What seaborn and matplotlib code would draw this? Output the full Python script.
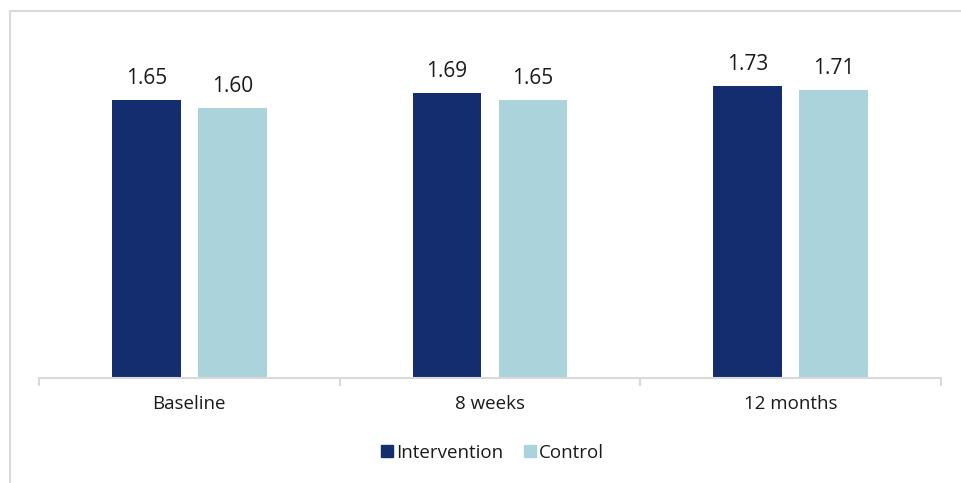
import matplotlib
matplotlib.use("Agg")
import matplotlib.pyplot as plt
from matplotlib.lines import Line2D
from matplotlib.ticker import FixedLocator
import seaborn as sns
import pandas as pd

# Mean scores by time point and study arm
timepoints = ["Baseline", "8 weeks", "12 months"]
intervention = [1.65, 1.69, 1.73]
control = [1.60, 1.65, 1.71]
groups = ["Intervention", "Control"]

df = pd.DataFrame({
    "time": timepoints * 2,
    "group": [groups[0]] * 3 + [groups[1]] * 3,
    "value": intervention + control,
})

sns.set_theme(style="white")
plt.rcParams["font.family"] = ["Open Sans", "DejaVu Sans"]

palette = {"Intervention": "#142D6E", "Control": "#AAD3DC"}
text_color = "#1a1a1a"
grid_gray = "#d9d9d9"

fig = plt.figure(figsize=(9.62, 4.83), dpi=100)
ax = fig.add_axes([39 / 962, 1 - 378 / 483, (941 - 39) / 962, 337 / 483])

sns.barplot(data=df, x="time", y="value", hue="group", order=timepoints,
            hue_order=groups, palette=palette, width=0.572, gap=0.2,
            saturation=1, legend=False, linewidth=0, ax=ax)

for cont in ax.containers:
    ax.bar_label(cont, fmt="%.2f", padding=8, fontsize=15, color=text_color)

ax.set_ylim(0, 2.0)
ax.set_xlim(-0.5, 2.5)
ax.set_xlabel("")
ax.set_ylabel("")
ax.set_yticks([])

for side in ["top", "right", "left"]:
    ax.spines[side].set_visible(False)
ax.spines["bottom"].set_color(grid_gray)
ax.spines["bottom"].set_linewidth(1.5)

# Category labels at centres, tick marks at group boundaries
ax.set_xticks(range(len(timepoints)))
ax.set_xticklabels(timepoints, fontsize=13.5, color=text_color)
ax.tick_params(axis="x", which="major", length=0, pad=12)
ax.xaxis.set_minor_locator(FixedLocator([-0.5, 0.5, 1.5, 2.5]))
ax.tick_params(axis="x", which="minor", length=6, width=1.5,
               color=grid_gray, bottom=True, direction="out")

# Legend below the plot
handles = [Line2D([0], [0], marker="s", linestyle="", markersize=9,
                  markerfacecolor=palette[g], markeredgecolor=palette[g])
           for g in groups]
fig.legend(handles, groups, loc="center", bbox_to_anchor=(492 / 962, 1 - 453 / 483),
           ncol=2, frameon=False, fontsize=13.5, handletextpad=0.1,
           columnspacing=1.0, handlelength=0.8, labelcolor=text_color)

# Light chart frame
fig.add_artist(Line2D([9.5 / 962, 9.5 / 962], [0, 1 - 11 / 483],
                      transform=fig.transFigure, color=grid_gray, linewidth=1.5))
fig.add_artist(Line2D([9.5 / 962, 1], [1 - 11 / 483, 1 - 11 / 483],
                      transform=fig.transFigure, color=grid_gray, linewidth=1.5))

fig.savefig("out.png", dpi=100)
